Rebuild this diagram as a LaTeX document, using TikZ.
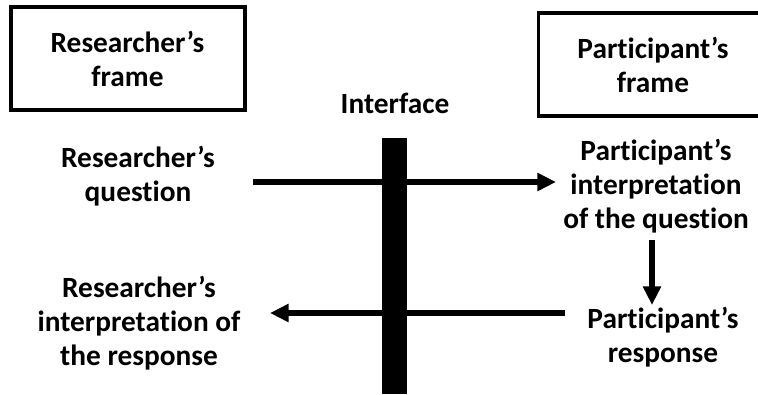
\documentclass[tikz,border=0pt]{standalone}
\usepackage{fontspec}
\setmainfont{Carlito}[Ligatures=NoCommon]
\usetikzlibrary{arrows.meta}

\tikzset{
	label text/.style={font=\fontsize{22}{25.5}\selectfont\bfseries, align=center, inner sep=0pt},
	frame box/.style={draw, line width=2.6pt, minimum height=77pt},
	flow/.style={line width=4pt, -{Triangle[length=14pt, width=13pt]}},
}

\begin{document}
\begin{tikzpicture}[x=0.75pt, y=-0.75pt]
	\useasboundingbox (0,0) rectangle (758,394);
	%
	\node[frame box, minimum width=175.5pt] (rframe) at (128, 58.5) {};
	\node[frame box, minimum width=180pt, anchor=west] (pframe) at (537, 64.5) {};
	\node[label text] (rframetxt) at (127.5, 59) {Researcher’s\\frame};
	\node[label text] (pframetxt) at (653, 65) {Participant’s\\frame};
	%
	\node[label text] (iface) at (395, 103) {Interface};
	\fill (382, 138) rectangle (407, 394);
	%
	\node[label text] (rq) at (138, 176) {Researcher’s\\question};
	\node[label text] (pi) at (656, 186) {Participant’s\\interpretation\\of the question};
	\node[label text] (pr) at (663, 337) {Participant’s\\response};
	\node[label text] (ri) at (139, 323) {Researcher’s\\interpretation of\\the response};
	%
	\coordinate (a) at (253, 182);
	\coordinate (b) at (556, 182);
	\coordinate (c) at (565, 313);
	\coordinate (d) at (270, 313);
	\coordinate (e) at (652, 240);
	\coordinate (f) at (652, 305);
	\draw[flow] (a) -- (b);
	\draw[flow] (c) -- (d);
	\draw[flow] (e) -- (f);
\end{tikzpicture}
\end{document}
